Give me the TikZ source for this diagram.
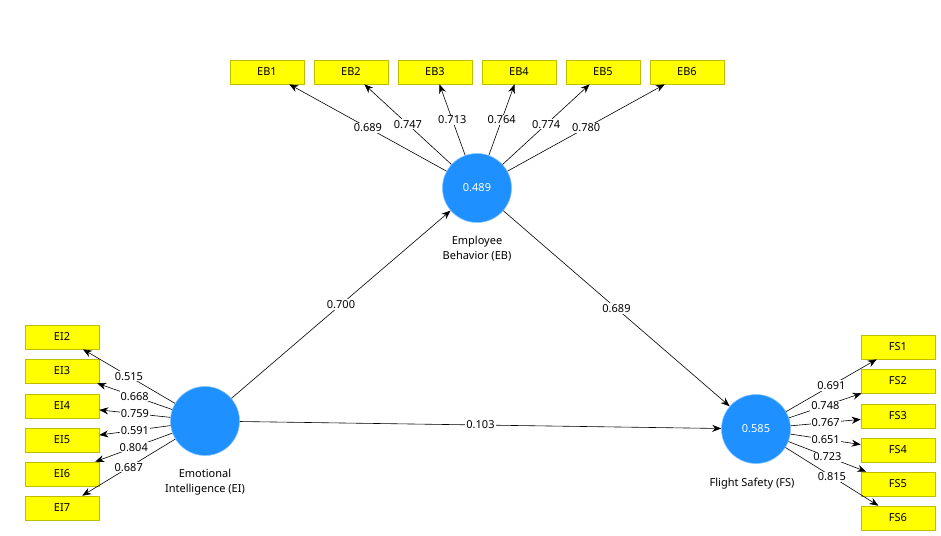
\documentclass[tikz,border=0pt]{standalone}
\usepackage{fontspec}
\setmainfont{Noto Sans}
\usetikzlibrary{arrows.meta}
\definecolor{lvblue}{RGB}{30,144,255}
\definecolor{mvyellow}{RGB}{255,255,0}
\definecolor{mvedge}{RGB}{190,190,0}
\newcommand\pls{\fontsize{11}{15}\selectfont}
\tikzset{
  latent/.style={circle, fill=lvblue, draw=lvblue!55, minimum size=69pt, inner sep=0pt, text=white},
  manifest/.style={rectangle, fill=mvyellow, draw=mvedge, minimum width=74pt, minimum height=24pt, inner sep=0pt},
  load/.style={fill=white, inner sep=1pt},
  every node/.style={font=\pls},
}
\begin{document}
\begin{tikzpicture}[x=1pt,y=-1pt,->,>={Stealth[length=9pt,width=7pt]},line width=0.6pt]
\useasboundingbox (0,0) rectangle (941,535);
%latent variables
\node[latent] (eb) at (477,188) {0.489};
\node[latent] (ei) at (205,421) {};
\node[latent] (fs) at (756,429) {0.585};
\node[align=center] (ebl) at (477,249) {Employee\\Behavior (EB)};
\node[align=center] (eil) at (205,482) {Emotional\\Intelligence (EI)};
\node (fsl) at (752,484) {Flight Safety (FS)};
%indicators EB
\node[manifest] (eb1) at (267,72) {EB1};
\node[manifest] (eb2) at (351,72) {EB2};
\node[manifest] (eb3) at (435,72) {EB3};
\node[manifest] (eb4) at (519,72) {EB4};
\node[manifest] (eb5) at (603,72) {EB5};
\node[manifest] (eb6) at (687,72) {EB6};
%indicators EI
\node[manifest] (ei2) at (62,337) {EI2};
\node[manifest] (ei3) at (62,371) {EI3};
\node[manifest] (ei4) at (62,406) {EI4};
\node[manifest] (ei5) at (62,440) {EI5};
\node[manifest] (ei6) at (62,474) {EI6};
\node[manifest] (ei7) at (62,508) {EI7};
%indicators FS
\node[manifest] (fs1) at (898,347) {FS1};
\node[manifest] (fs2) at (898,381) {FS2};
\node[manifest] (fs3) at (898,416) {FS3};
\node[manifest] (fs4) at (898,450) {FS4};
\node[manifest] (fs5) at (898,484) {FS5};
\node[manifest] (fs6) at (898,518) {FS6};
%outer loadings
\draw (eb) -- node[load] {0.689} (eb1);
\draw (eb) -- node[load] {0.747} (eb2);
\draw (eb) -- node[load] {0.713} (eb3);
\draw (eb) -- node[load] {0.764} (eb4);
\draw (eb) -- node[load] {0.774} (eb5);
\draw (eb) -- node[load] {0.780} (eb6);
\draw (ei) -- node[load] {0.515} (ei2);
\draw (ei) -- node[load] {0.668} (ei3);
\draw (ei) -- node[load] {0.759} (ei4);
\draw (ei) -- node[load] {0.591} (ei5);
\draw (ei) -- node[load] {0.804} (ei6);
\draw (ei) -- node[load] {0.687} (ei7);
\draw (fs) -- node[load] {0.691} (fs1);
\draw (fs) -- node[load] {0.748} (fs2);
\draw (fs) -- node[load] {0.767} (fs3);
\draw (fs) -- node[load] {0.651} (fs4);
\draw (fs) -- node[load] {0.723} (fs5);
\draw (fs) -- node[load] {0.815} (fs6);
%path coefficients
\draw (ei) -- node[load] {0.700} (eb);
\draw (eb) -- node[load] {0.689} (fs);
\draw (ei) -- node[load] {0.103} (fs);
\end{tikzpicture}
\end{document}
